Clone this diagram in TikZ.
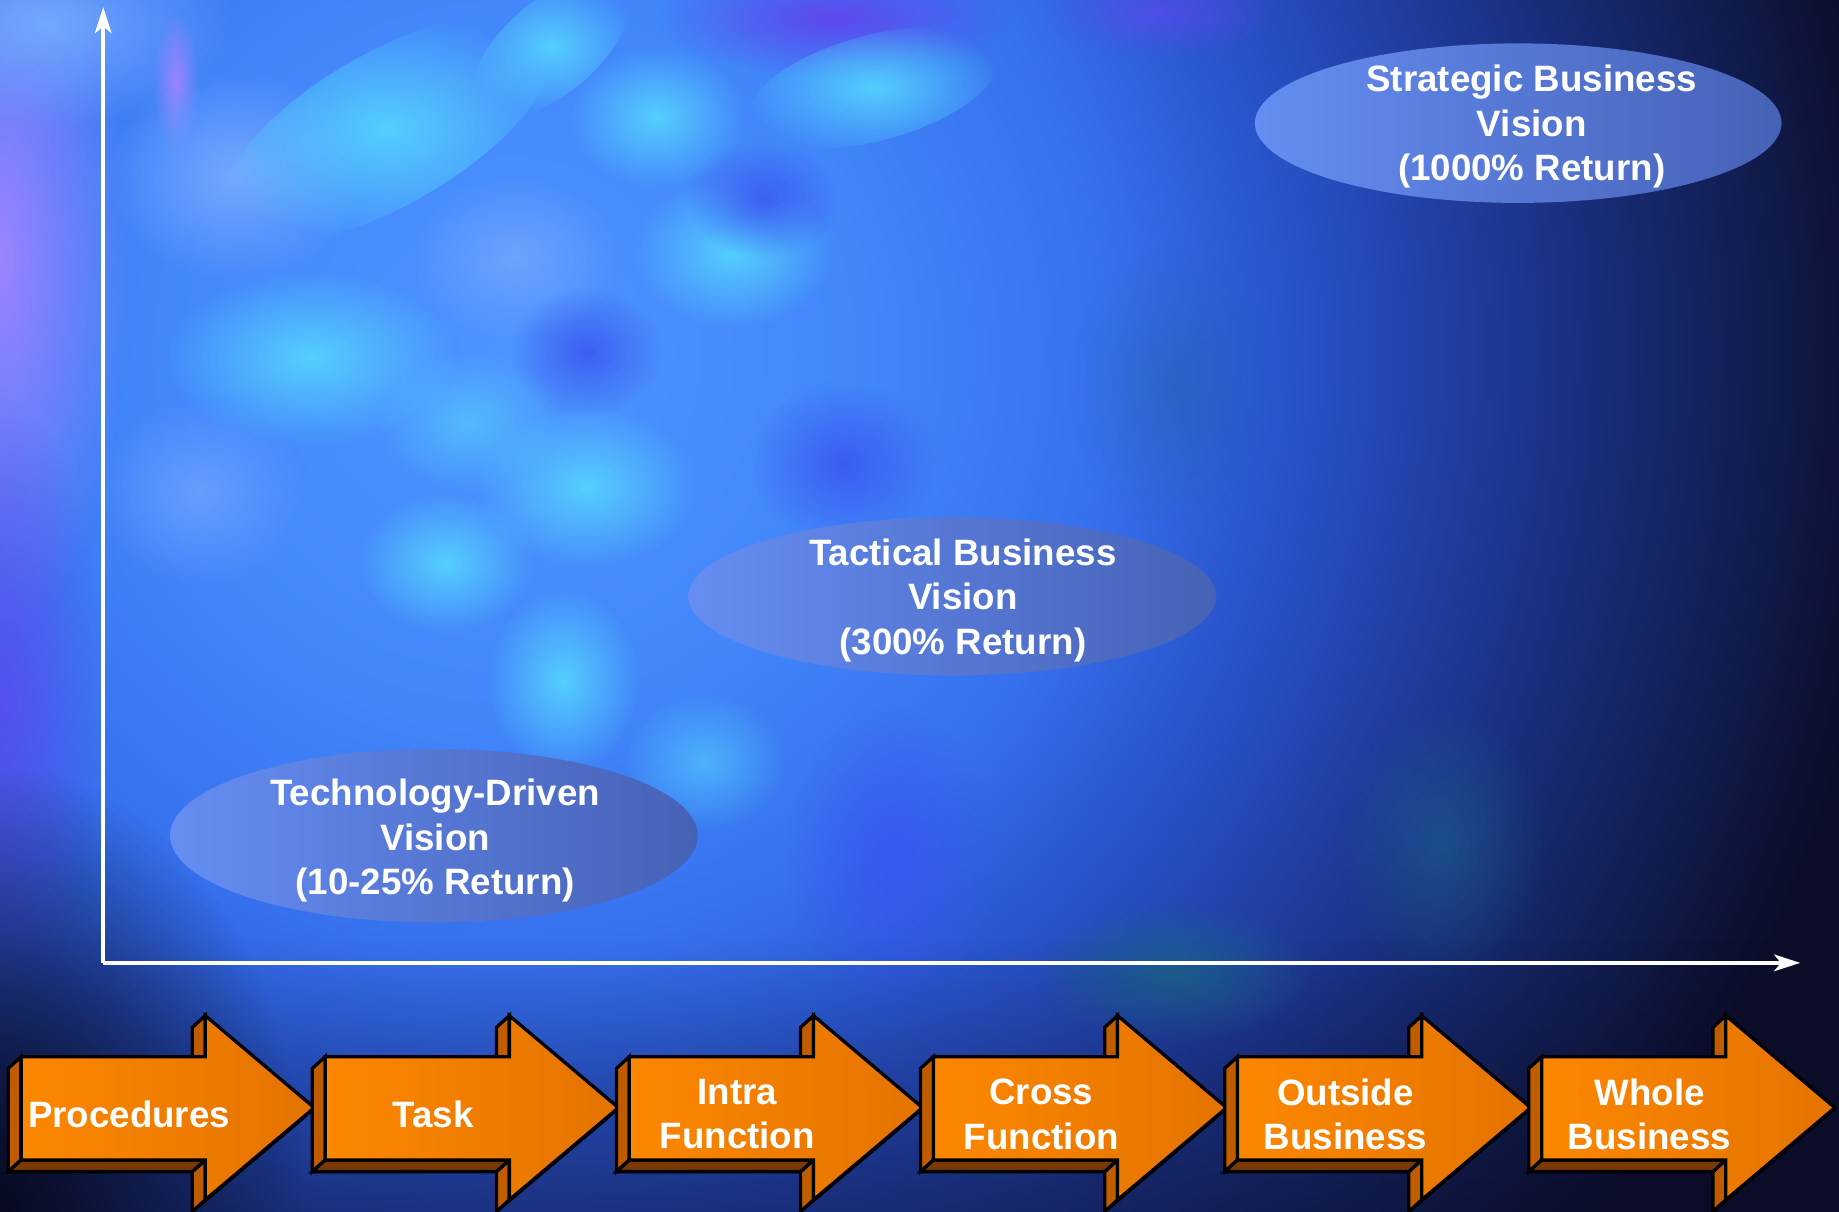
\documentclass[tikz,border=0pt]{standalone}
\usepackage{fontspec}
\setmainfont{Liberation Sans}
\usetikzlibrary{arrows.meta,fadings}

\definecolor{bgnavy}{HTML}{0A0C28}
\definecolor{glowA}{HTML}{4E94FF}
\definecolor{glowB}{HTML}{4286FA}
\definecolor{glowC}{HTML}{3670EE}
\definecolor{glowD}{HTML}{2A56CE}
\definecolor{glowE}{HTML}{2242AA}
\definecolor{glowF}{HTML}{182C78}
\definecolor{glowG}{HTML}{101A48}
\definecolor{cyanspot}{HTML}{56D6FF}
\definecolor{lightspot}{HTML}{74A8FF}
\definecolor{deepspot}{HTML}{3A52F0}
\definecolor{violetspot}{HTML}{9C84FF}
\definecolor{purplespot}{HTML}{5E48EE}
\definecolor{tealspot}{HTML}{1E6090}
\definecolor{darkspot}{HTML}{080A20}
\definecolor{ellA}{HTML}{658DF2}
\definecolor{ellB}{HTML}{4662B6}
\definecolor{arrowA}{HTML}{FC8700}
\definecolor{arrowB}{HTML}{E47300}
\definecolor{arrowside}{HTML}{C05C00}
\definecolor{arrowbot}{HTML}{7A3A00}

\pgfdeclareradialshading{bgglow}{\pgfpoint{0bp}{0bp}}{color(0bp)=(glowA); color(6bp)=(glowB); color(10bp)=(glowC); color(12.5bp)=(glowD); color(15bp)=(glowE); color(18bp)=(glowF); color(21bp)=(glowG); color(23bp)=(bgnavy); color(50bp)=(bgnavy)}
\tikzfading[name=softspot, inner color=transparent!0, outer color=transparent!100]
\tikzfading[name=fadeup, top color=transparent!100, bottom color=transparent!0]

\tikzset{
  spot/.style={path fading=softspot, fit fading=true},
  axisline/.style={draw=white, line width=1pt, -{Stealth[length=6.3pt,width=4pt,inset=1.6pt]}},
  visionbg/.style={left color=ellA, right color=ellB},
  vtext/.style={text=white, font=\fontsize{8.9}{10.8}\selectfont\bfseries, align=center, inner sep=0pt},
  sideface/.style={fill=arrowside, draw=black, line width=0.8pt},
  bottomface/.style={fill=arrowbot, draw=black, line width=0.8pt},
  frontface/.style={left color=arrowA, right color=arrowB, draw=black, line width=0.8pt}
}

\begin{document}
\begin{tikzpicture}[x=0.01cm, y=0.01cm]
\useasboundingbox (0,0) rectangle (1568,-1033.4);

% background
\begin{scope}
\clip (0,0) rectangle (1568,-1033.4);
\fill[bgnavy] (0,0) rectangle (1568,-1033.4);
\shade[shading=bgglow] (430,-300) circle (1300);
\fill[violetspot, spot] (0,-220) ellipse (110 and 330);
\fill[lightspot, spot] (40,-20) ellipse (160 and 90);
\fill[violetspot, spot] (150,-70) ellipse (20 and 60);
\fill[purplespot, spot, opacity=0.8] (0,-600) ellipse (90 and 260);
\fill[purplespot, spot] (710,-15) ellipse (150 and 50);
\fill[purplespot, spot, opacity=0.7] (990,-10) ellipse (100 and 40);
\fill[lightspot, spot] (200,-150) ellipse (110 and 90);
\fill[lightspot, spot, opacity=0.8] (440,-220) ellipse (90 and 70);
\fill[lightspot, spot, opacity=0.7] (170,-420) ellipse (90 and 80);
\fill[cyanspot, spot, opacity=0.9, rotate around={30:(330,-110)}] (330,-110) ellipse (160 and 65);
\fill[cyanspot, spot, opacity=0.9] (265,-305) ellipse (125 and 75);
\fill[cyanspot, spot, opacity=0.9] (500,-415) ellipse (95 and 70);
\fill[cyanspot, spot, opacity=0.9, rotate around={40:(470,-40)}] (470,-40) ellipse (80 and 40);
\fill[cyanspot, spot, opacity=0.9] (625,-215) ellipse (85 and 65);
\fill[cyanspot, spot, opacity=0.9, rotate around={15:(745,-75)}] (745,-75) ellipse (110 and 45);
\fill[cyanspot, spot, opacity=0.9] (560,-100) ellipse (75 and 60);
\fill[cyanspot, spot, opacity=0.6] (400,-360) ellipse (80 and 60);
\fill[cyanspot, spot, opacity=0.9] (380,-480) ellipse (75 and 60);
\fill[cyanspot, spot, opacity=0.9] (480,-580) ellipse (65 and 80);
\fill[cyanspot, spot, opacity=0.6] (600,-650) ellipse (70 and 60);
\fill[deepspot, spot, opacity=0.8] (500,-300) ellipse (65 and 55);
\fill[deepspot, spot, opacity=0.8] (650,-170) ellipse (65 and 50);
\fill[deepspot, spot, opacity=0.8] (720,-395) ellipse (80 and 70);
\fill[deepspot, spot, opacity=0.8] (760,-733) ellipse (90 and 130);
\fill[tealspot, spot] (1000,-830) ellipse (120 and 60);
\fill[tealspot, spot, opacity=0.6] (1230,-720) ellipse (90 and 120);
\fill[tealspot, spot, opacity=0.35] (1000,-330) ellipse (90 and 120);
\fill[bgnavy, path fading=fadeup, opacity=0.65] (0,-800) rectangle (1568,-1200);
\fill[darkspot, spot] (0,-1033) ellipse (260 and 380);
\end{scope}

% axes
\coordinate (origin) at (88,-821);
\coordinate (ytip) at (88,-6);
\coordinate (xtip) at (1535,-821);
\draw[axisline] (origin) -- (ytip);
\draw[axisline] (origin) -- (xtip);

% visions
\shade[visionbg] (1294.5,-105) ellipse (224.5 and 68);
\node[vtext] (strategic) at (1306,-108) {Strategic Business\\Vision\\(1000\% Return)};
\shade[visionbg] (812,-508.5) ellipse (225 and 67.5);
\node[vtext] (tactical) at (821,-512) {Tactical Business\\Vision\\(300\% Return)};
\shade[visionbg] (370,-712.5) ellipse (225 and 74);
\node[vtext] (techdriven) at (371,-717) {Technology-Driven\\Vision\\(10-25\% Return)};

% scope arrows
\foreach \x/\id/\lbl in {18/procedures/Procedures, 277.3/task/Task, 536.6/intra/{Intra\\Function}, 795.9/cross/{Cross\\Function}, 1055.2/outside/{Outside\\Business}, 1314.5/whole/{Whole\\Business}} {
  \begin{scope}[shift={(\x,0)}]
    \path[sideface] (250,-944.5) -- (239,-954.5) -- (146,-1033) -- (157,-1023) -- cycle;
    \path[sideface] (157,-866) -- (146,-876) -- (146,-911) -- (157,-901) -- cycle;
    \path[sideface] (157,-989) -- (146,-999) -- (146,-1033) -- (157,-1023) -- cycle;
    \path[sideface] (0,-901) -- (-11,-911) -- (-11,-999) -- (0,-989) -- cycle;
    \path[bottomface] (0,-989) -- (-11,-999) -- (146,-999) -- (157,-989) -- cycle;
    \path[frontface] (0,-901) -- (157,-901) -- (157,-866) -- (250,-944.5) -- (157,-1023) -- (157,-989) -- (0,-989) -- cycle;
    \node[vtext] (\id) at (92,-950) {\lbl};
  \end{scope}
}
\end{tikzpicture}
\end{document}
